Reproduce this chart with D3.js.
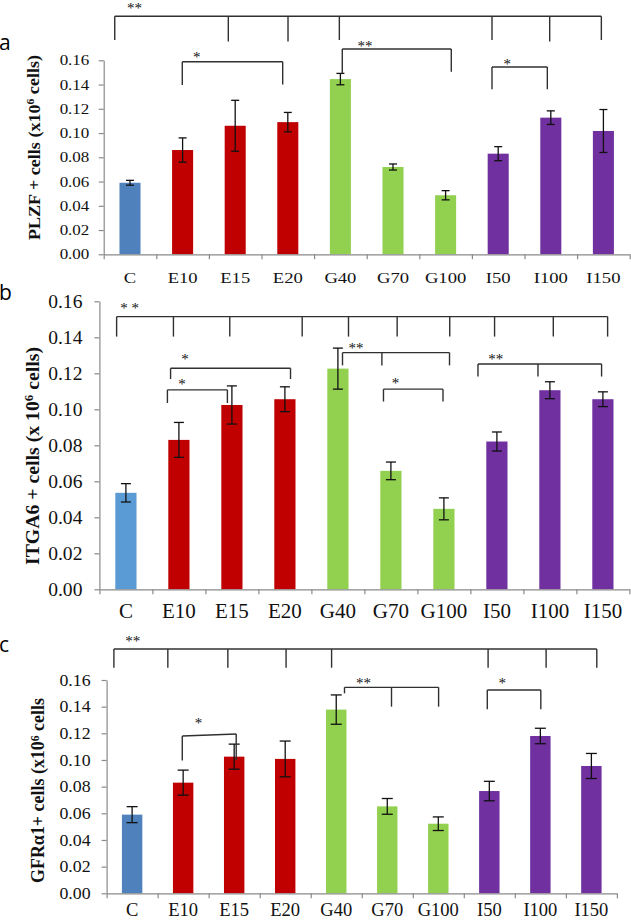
<!DOCTYPE html>
<html>
<head>
<meta charset="utf-8">
<script src="https://cdn.jsdelivr.net/npm/d3@7"></script>
<style>
  html, body { margin: 0; padding: 0; background: #fff; }
  svg { display: block; }
  text { font-family: "Liberation Serif", "Times New Roman", Times, serif; fill: #111; }
</style>
</head>
<body>
<svg id="chart" width="631" height="920"></svg>
<script>
// ---------------- DATA ----------------
const categories = ["C", "E10", "E15", "E20", "G40", "G70", "G100", "I50", "I100", "I150"];
const groups     = ["C", "E", "E", "E", "G", "G", "G", "I", "I", "I"];
const yTicks = [0, 0.02, 0.04, 0.06, 0.08, 0.10, 0.12, 0.14, 0.16];

// Panel a: PLZF+ cells
const plzfMean = [0.059, 0.086, 0.106, 0.109, 0.1445, 0.072, 0.0487, 0.083, 0.1127, 0.1017];
const plzfErr  = [0.002, 0.010, 0.021, 0.008, 0.0047, 0.0025, 0.0038, 0.0058, 0.0056, 0.0177];

// Panel b: ITGA6+ cells
const itga6Mean = [0.0536, 0.083, 0.1024, 0.1056, 0.1226, 0.0658, 0.0447, 0.0821, 0.1106, 0.1056];
const itga6Err  = [0.0051, 0.0097, 0.0106, 0.0069, 0.0114, 0.0049, 0.0061, 0.0053, 0.0047, 0.0041];

// Panel c: GFRa1+ cells
const gfraMean = [0.0590, 0.0830, 0.1025, 0.1008, 0.1378, 0.0652, 0.0522, 0.0767, 0.1180, 0.0955];
const gfraErr  = [0.0060, 0.0094, 0.0094, 0.0134, 0.0110, 0.0059, 0.0051, 0.0073, 0.0058, 0.0094];

// Significance brackets: drop positions in category units (0..10), bar level & drop ends in data units
const bracketsA = [
  { xs: [0.21, 2.369, 3.504, 4.48, 7.382, 8.479, 9.461], top: 0.1963, ends: [0.1767, 0.1755, 0.1755, 0.1767, 0.1767, 0.1755, 0.1767], label: "**", lx: 0.586, ly: 0.2052 },
  { xs: [1.494, 3.403], top: 0.1588, ends: [0.1396, 0.1400], label: "*", lx: 1.768, ly: 0.1645 },
  { xs: [4.536, 6.608], top: 0.1693, ends: [0.1490, 0.1506], label: "**", lx: 4.968, ly: 0.1732 },
  { xs: [7.382, 8.434], top: 0.1545, ends: [0.1361, 0.1361], label: "*", lx: 7.673, ly: 0.1586 }
];
const bracketsB = [
  { xs: [0.325, 1.397, 2.46, 3.826, 4.70, 5.618, 6.61, 7.456, 8.564, 9.589], top: 0.1515, ends: [0.1404, 0.1404, 0.1404, 0.1404, 0.1404, 0.1404, 0.1404, 0.1404, 0.1404, 0.1404], label: "* *", lx: 0.572, ly: 0.1576 },
  { xs: [1.343, 3.606], top: 0.1228, ends: [0.1168, 0.1168], label: "*", lx: 1.615, ly: 0.1289 },
  { xs: [1.283, 2.415], top: 0.1108, ends: [0.1035, 0.1035], label: "*", lx: 1.558, ly: 0.1150 },
  { xs: [4.587, 5.330, 6.606], top: 0.1315, ends: [0.1244, 0.1244, 0.1244], label: "**", lx: 4.842, ly: 0.1354 },
  { xs: [5.36, 6.483], top: 0.1112, ends: [0.1043, 0.1043], label: "*", lx: 5.589, ly: 0.1159 },
  { xs: [7.143, 8.275, 9.475], top: 0.1252, ends: [0.1182, 0.1182, 0.1182], label: "**", lx: 7.479, ly: 0.1293 }
];
const bracketsC = [
  { xs: [0.143, 1.200, 2.376, 3.517, 4.409, 7.476, 8.613, 9.606], top: 0.1832, ends: [0.1692, 0.1692, 0.1692, 0.1692, 0.1692, 0.1692, 0.1692, 0.1692], label: "**", lx: 0.513, ly: 0.1905 },
  { xs: [1.483, 2.540], top: [0.1180, 0.1195], ends: [0.0997, 0.1000], label: "*", lx: 1.799, ly: 0.1292 },
  { xs: [4.662, 5.583, 6.506], top: 0.1545, ends: [0.1500, 0.1400, 0.1400], label: "**", lx: 5.032, ly: 0.1595 },
  { xs: [7.46, 8.509], top: 0.1525, ends: [0.1380, 0.1380], label: "*", lx: 7.752, ly: 0.1592 }
];

// ---------------- STYLE / LAYOUT ----------------
const groupColorsA = { C: "#4F81BD", E: "#C00000", G: "#92D050", I: "#7030A0" };
const groupColorsB = { C: "#5B9BD5", E: "#C00000", G: "#92D050", I: "#7030A0" };

const panels = [
  { letter: "a", lx: -1, ly: 50, mean: plzfMean, err: plzfErr, brackets: bracketsA, colors: groupColorsA,
    x0: 103.7, x1: 629.7, yBottom: 254.3, yTop: 60.3,
    tickFont: 14.5, tickPad: 9.4, tickSx: 1.17, xFont: 15.5, xSx: 1.2, xLabelY: 282.5, capW: 8,
    title: ["PLZF + cells (x10", "6", " cells)"], titleX: 39.5, titleY: 147.5, titleFont: 17.5, titleLen: 185 },
  { letter: "b", lx: -1, ly: 300, mean: itga6Mean, err: itga6Err, brackets: bracketsB, colors: groupColorsB,
    x0: 99.4, x1: 629.4, yBottom: 589.3, yTop: 301.3,
    tickFont: 19, tickPad: 12, tickSx: 1.03, xFont: 21, xSx: 1.0, xLabelY: 618, capW: 10,
    title: ["ITGA6 + cells (x 10", "6", " cells)"], titleX: 39, titleY: 456, titleFont: 19.5, titleLen: 218 },
  { letter: "c", lx: -1, ly: 652, mean: gfraMean, err: gfraErr, brackets: bracketsC, colors: groupColorsA,
    x0: 106.6, x1: 616.9, yBottom: 893.3, yTop: 680,
    tickFont: 16.5, tickPad: 11, tickSx: 1.08, xFont: 18, xSx: 1.03, xLabelY: 915.5, capW: 11,
    title: ["GFRα1+ cells (x10", "6", " cells"], titleX: 44, titleY: 790.5, titleFont: 18, titleLen: 185 }
];

const svg = d3.select("#chart");
const axisColor = "#8a8a8a";
const bracketColor = "#303030";

panels.forEach(p => {
  const g = svg.append("g");

  const x = d3.scaleBand().domain(categories).range([p.x0, p.x1]).paddingInner(0.6).paddingOuter(0.3);
  const xl = d3.scaleLinear().domain([0, categories.length]).range([p.x0, p.x1]);
  const y = d3.scaleLinear().domain([0, 0.16]).range([p.yBottom, p.yTop]);

  // panel letter
  svg.append("text").attr("x", p.lx).attr("y", p.ly)
    .style("font-family", "'Open Sans', 'DejaVu Sans', sans-serif")
    .style("font-size", "21px").style("fill", "#000").text(p.letter);

  // bars
  g.selectAll("rect.bar").data(categories).enter().append("rect")
    .attr("class", "bar")
    .attr("x", d => x(d))
    .attr("width", x.bandwidth())
    .attr("y", (d, i) => y(p.mean[i]))
    .attr("height", (d, i) => y(0) - y(p.mean[i]))
    .attr("fill", (d, i) => p.colors[groups[i]]);

  // y axis
  const yAxis = d3.axisLeft(y).tickValues(yTicks).tickFormat(d3.format(".2f"))
    .tickSize(5).tickSizeOuter(0).tickPadding(p.tickPad);
  const ya = g.append("g").attr("transform", `translate(${p.x0},0)`).call(yAxis);
  ya.attr("font-family", null);
  ya.select(".domain").attr("stroke", axisColor).attr("stroke-width", 1.2);
  ya.selectAll(".tick line").attr("stroke", axisColor).attr("stroke-width", 1.2);
  ya.selectAll(".tick text")
    .style("font-family", "'Liberation Serif', 'Times New Roman', serif")
    .style("font-size", p.tickFont + "px").attr("fill", "#111")
    .attr("x", -(5 + p.tickPad) / p.tickSx)
    .attr("transform", `scale(${p.tickSx},1)`);

  // x axis (band boundaries ticks)
  const xAxis = d3.axisBottom(xl).tickValues(d3.range(categories.length + 1)).tickFormat("")
    .tickSize(5).tickSizeOuter(0);
  const xa = g.append("g").attr("transform", `translate(0,${p.yBottom})`).call(xAxis);
  xa.select(".domain").attr("stroke", axisColor).attr("stroke-width", 1.2);
  xa.selectAll(".tick line").attr("stroke", axisColor).attr("stroke-width", 1.2);

  // x labels
  g.selectAll("text.xl").data(categories).enter().append("text")
    .attr("class", "xl")
    .attr("transform", d => `translate(${x(d) + x.bandwidth() / 2},${p.xLabelY}) scale(${p.xSx},1)`)
    .attr("text-anchor", "middle")
    .style("font-size", p.xFont + "px")
    .text(d => d);

  // error bars
  const eb = g.selectAll("g.err").data(categories).enter().append("g").attr("class", "err");
  const cx = d => x(d) + x.bandwidth() / 2;
  eb.append("line")
    .attr("x1", cx).attr("x2", cx)
    .attr("y1", (d, i) => y(p.mean[i] - p.err[i]))
    .attr("y2", (d, i) => y(p.mean[i] + p.err[i]))
    .attr("stroke", "#111").attr("stroke-width", 1.3);
  [-1, 1].forEach(s => {
    eb.append("line")
      .attr("x1", d => cx(d) - p.capW / 2).attr("x2", d => cx(d) + p.capW / 2)
      .attr("y1", (d, i) => y(p.mean[i] + s * p.err[i]))
      .attr("y2", (d, i) => y(p.mean[i] + s * p.err[i]))
      .attr("stroke", "#111").attr("stroke-width", 1.3);
  });

  // brackets
  p.brackets.forEach(b => {
    const tops = Array.isArray(b.top) ? b.top : b.xs.map(() => b.top);
    const xsPx = b.xs.map(v => xl(v));
    const line = d3.line().x(d => d[0]).y(d => d[1]);
    g.append("path")
      .attr("d", line(xsPx.map((xx, i) => [xx, y(tops[i])])))
      .attr("fill", "none").attr("stroke", bracketColor).attr("stroke-width", 1.4);
    xsPx.forEach((xx, i) => {
      g.append("line")
        .attr("x1", xx).attr("x2", xx)
        .attr("y1", y(tops[i])).attr("y2", y(b.ends[i]))
        .attr("stroke", bracketColor).attr("stroke-width", 1.4);
    });
    g.append("text")
      .attr("x", xl(b.lx)).attr("y", y(b.ly) + 7)
      .attr("text-anchor", "middle")
      .style("font-size", "15px")
      .style("white-space", "pre")
      .attr("xml:space", "preserve")
      .text(b.label);
  });

  // y title
  const t = svg.append("text")
    .attr("transform", `translate(${p.titleX},${p.titleY}) rotate(-90)`)
    .attr("text-anchor", "middle")
    .attr("textLength", p.titleLen)
    .attr("lengthAdjust", "spacingAndGlyphs")
    .style("font-weight", "bold")
    .style("font-size", p.titleFont + "px");
  t.append("tspan").text(p.title[0]);
  t.append("tspan").attr("dy", "-0.45em").style("font-size", "0.65em").text(p.title[1]);
  t.append("tspan").attr("dy", "0.29em").text(p.title[2]);
});
</script>
</body>
</html>
